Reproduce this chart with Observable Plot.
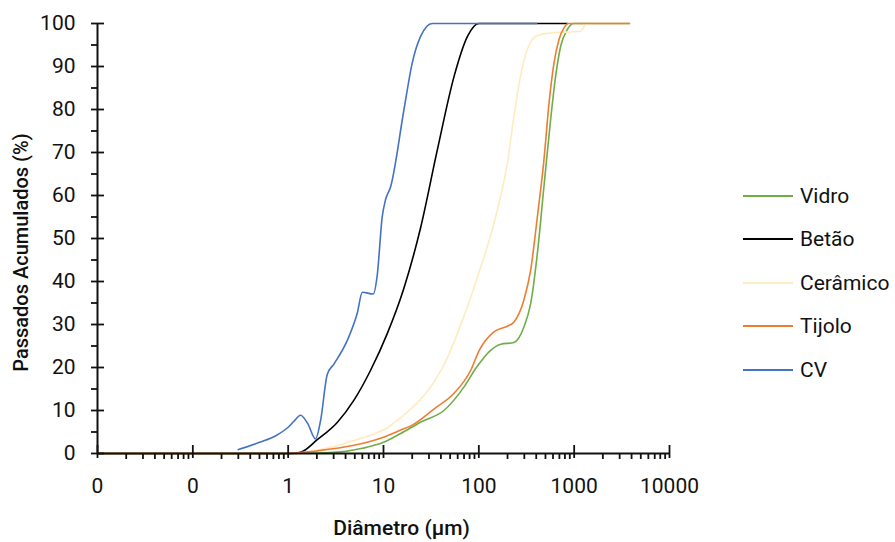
<!DOCTYPE html>
<html>
<head>
<meta charset="utf-8">
<script src="https://cdn.jsdelivr.net/npm/d3@7"></script>
<script src="https://cdn.jsdelivr.net/npm/@observablehq/plot@0.6"></script>
<style>
  html, body { margin: 0; padding: 0; background: #fff; }
  #wrap { position: relative; width: 895px; height: 542px; font-family: Roboto, "Liberation Sans", sans-serif; }
  #wrap svg { display: block; }
  #legend { position: absolute; left: 743px; top: 174px; }
  .row { display: flex; align-items: center; height: 43.5px; font-size: 21px; color: #111; }
  .sw { width: 50px; height: 0; border-top: 2px solid; margin-right: 7px; }
</style>
</head>
<body>
<div id="wrap"><div id="legend"></div></div>
<script>
// Series names and colours
const seriesNames = ["Vidro", "Betão", "Cerâmico", "Tijolo", "CV"];
const seriesColors = ["#70AD47", "#000000", "#FFEBC0", "#ED7D31", "#4472C4"];

// Diameters (µm) and cumulative passing (%) per series
const vidroD = [0.01, 0.1, 1, 2, 4, 6, 10, 15, 25, 43, 70, 95, 133, 170, 234, 297, 350, 411, 482, 566, 639, 722, 847, 990, 3800];
const vidroP = [0, 0, 0, 0.1, 0.5, 1.2, 2.6, 4.6, 7.4, 10, 15.5, 20.1, 24, 25.4, 25.8, 29.4, 34.9, 46.5, 62.1, 77.6, 87.7, 94.7, 98.6, 100, 100];

const betaoD = [0.01, 0.1, 1, 1.35, 2.02, 3.27, 4.9, 7.3, 11, 16.4, 24.5, 36.7, 55, 76, 100, 850];
const betaoP = [0, 0, 0, 0.3, 3.2, 7.2, 12.4, 19.3, 28, 38.5, 52.5, 70.6, 87.7, 97, 100, 100];

const ceramicoD = [0.01, 0.1, 1, 1.5, 3, 4.9, 8, 11, 15.1, 24.5, 33.8, 45, 70, 100, 130, 160, 199, 234, 275, 323, 411, 566, 1170, 1320, 1400, 3800];
const ceramicoP = [0, 0, 0, 0.3, 1.6, 3, 4.6, 6, 8.3, 12.6, 16.6, 21.5, 32, 42, 50, 57.5, 67.5, 78.5, 88, 94, 97.2, 97.8, 98.2, 99.8, 100, 100];

const tijoloD = [0.01, 0.1, 1, 2, 4.9, 10, 15, 20, 34, 55, 82, 101, 144, 199, 234, 297, 350, 411, 482, 545, 614, 693, 782, 870, 3800];
const tijoloP = [0, 0, 0, 0.6, 1.9, 3.8, 5.4, 6.6, 10.4, 14, 19.3, 24, 28.3, 29.6, 30.6, 35.7, 42.7, 55, 68.3, 81.5, 90.8, 96.3, 99, 100, 100];

const cvD = [0.3, 0.5, 0.75, 1.0, 1.15, 1.35, 1.6, 1.94, 2.19, 2.57, 3.02, 4.17, 5.3, 6.0, 7.8, 8.6, 9.7, 10.5, 11.9, 16.4, 20, 24.5, 32.5, 405];
const cvP = [0.9, 2.6, 4.2, 6.1, 7.5, 8.9, 7.0, 3.4, 7.7, 18.4, 20.8, 26.3, 32.6, 37.5, 37.1, 41.5, 55.1, 59, 62.1, 80, 90.8, 97, 100, 100];

// Axis ticks
const xMajorTicks = [0.01, 0.1, 1, 10, 100, 1000, 10000];
const xMinorTicks = [];
for (const base of [0.01, 0.1, 1, 10, 100, 1000]) for (let k = 2; k <= 9; k++) xMinorTicks.push(+(base * k).toPrecision(3));
const yMajorTicks = [0, 10, 20, 30, 40, 50, 60, 70, 80, 90, 100];
const yMinorTicks = [5, 15, 25, 35, 45, 55, 65, 75, 85, 95];

const allD = [vidroD, betaoD, ceramicoD, tijoloD, cvD];
const allP = [vidroP, betaoP, ceramicoP, tijoloP, cvP];
const rows = [];
seriesNames.forEach((name, i) => allD[i].forEach((d, j) => rows.push({serie: name, d, p: allP[i][j]})));

const tickFmt = d => d < 1 ? "0" : String(d);

const chart = Plot.plot({
  width: 895,
  height: 542,
  marginLeft: 97,
  marginRight: 226,
  marginTop: 23,
  marginBottom: 89,
  style: {fontFamily: "Roboto, 'Liberation Sans', sans-serif", background: "#fff", color: "#111"},
  x: {type: "log", domain: [0.01, 10000]},
  y: {domain: [0, 100]},
  color: {domain: seriesNames, range: seriesColors},
  marks: [
    // lines
    ...seriesNames.map(name => Plot.line(rows.filter(r => r.serie === name), {
      x: "d", y: "p", stroke: "serie", strokeWidth: 1.6, curve: "monotone-x"
    })),
    // x axis
    Plot.axisX({ticks: xMajorTicks, tickSize: 5, tickPadding: 20, tickFormat: tickFmt, fontSize: 21, strokeWidth: 1.8, label: null}),
    Plot.axisX({ticks: xMajorTicks, tickSize: 8, dy: -8, text: null, strokeWidth: 1.8, label: null}),
    Plot.axisX({ticks: xMinorTicks, tickSize: 6, text: null, strokeWidth: 1.8, label: null}),
    // y axis
    Plot.axisY({ticks: yMajorTicks, tickSize: 6, tickPadding: 16, fontSize: 21, strokeWidth: 1.8, label: null}),
    Plot.axisY({ticks: yMajorTicks, tickSize: 7, dx: 7, text: null, strokeWidth: 1.8, label: null}),
    Plot.axisY({ticks: yMinorTicks, tickSize: 6, text: null, strokeWidth: 1.8, label: null}),
    // axis lines
    Plot.ruleY([0], {strokeWidth: 2}),
    Plot.ruleX([0.01], {strokeWidth: 2}),
    // titles
    Plot.text(["Passados Acumulados (%)"], {frameAnchor: "left", textAnchor: "middle", lineAnchor: "middle", rotate: -90, dx: -76, dy: 14, fontSize: 20, fontWeight: 500, fill: "#111"}),
    Plot.text(["Diâmetro (µm)"], {frameAnchor: "bottom", textAnchor: "middle", lineAnchor: "middle", dx: 18, dy: 75, fontSize: 21, fontWeight: 500, fill: "#111"})
  ]
});

const wrap = document.getElementById("wrap");
wrap.insertBefore(chart, wrap.firstChild);

const legend = document.getElementById("legend");
seriesNames.forEach((name, i) => {
  const row = document.createElement("div");
  row.className = "row";
  const sw = document.createElement("span");
  sw.className = "sw";
  sw.style.borderTopColor = seriesColors[i];
  const lab = document.createElement("span");
  lab.textContent = name;
  row.appendChild(sw);
  row.appendChild(lab);
  legend.appendChild(row);
});
</script>
</body>
</html>
